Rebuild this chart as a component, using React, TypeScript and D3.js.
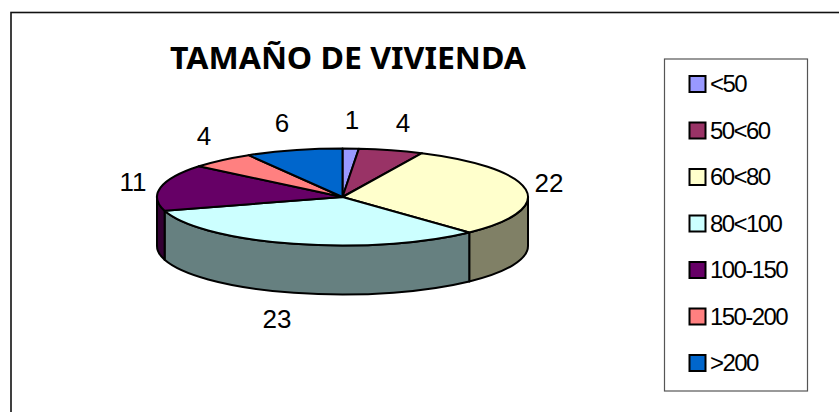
import React from 'react';
import * as d3 from 'd3';

const categories = ['<50', '50<60', '60<80', '80<100', '100-150', '150-200', '>200'];
const values = [1, 4, 22, 23, 11, 4, 6];
const colors = ['#9999FF', '#993366', '#FFFFCC', '#CCFFFF', '#660066', '#FF8080', '#0066CC'];
const title = 'TAMAÑO DE VIVIENDA';

const cx = 342.5;
const cy = 197;
const rx = 185.5;
const ry = 48.5;
const depth = 49;

type Slice = d3.PieArcDatum<number>;

const pie = d3.pie<number>().sort(null).startAngle(0).endAngle(2 * Math.PI);
const slices: Slice[] = pie(values);

const px = (a: number) => cx + rx * Math.sin(a);
const py = (a: number) => cy - ry * Math.cos(a);

// top face of a slice, flattened pie
const topPath = (d: Slice) => {
  const p = d3.path();
  p.moveTo(cx, cy);
  p.lineTo(px(d.startAngle), py(d.startAngle));
  return `${p.toString()}A${rx},${ry} 0 ${d.endAngle - d.startAngle > Math.PI ? 1 : 0} 1 ${px(d.endAngle)},${py(d.endAngle)}Z`;
};

// outer wall, only the part facing the viewer
const wallPath = (d: Slice) => {
  const a0 = Math.max(d.startAngle, Math.PI / 2);
  const a1 = Math.min(d.endAngle, (3 * Math.PI) / 2);
  if (a1 <= a0) return null;
  return (
    `M${px(a0)},${py(a0)}A${rx},${ry} 0 0 1 ${px(a1)},${py(a1)}` +
    `L${px(a1)},${py(a1) + depth}A${rx},${ry} 0 0 0 ${px(a0)},${py(a0) + depth}Z`
  );
};

const darken = (c: string) => {
  const r = d3.rgb(c);
  return d3.rgb(r.r / 2, r.g / 2, r.b / 2).formatHex();
};

const labelPos = [
  [352, 129],
  [403, 132],
  [549, 192],
  [277, 328],
  [133, 191],
  [204, 145],
  [282, 132],
];

const legendY = d3.scalePoint<string>().domain(categories).range([84, 363]);

const App = () => {
  return (
    <svg width={839} height={412} style={{ position: 'absolute', left: 0, top: 0, background: '#fff' }}>
      {/* frame runs past the right and bottom edges of the picture */}
      <rect x={11} y={12.5} width={860} height={430} fill="#fff" stroke="#111" strokeWidth={1.6} />
      <text
        x={348}
        y={69}
        textAnchor="middle"
        fontFamily="'Noto Sans', sans-serif"
        fontWeight="bold"
        fontSize={30}
        textLength={356}
        lengthAdjust="spacingAndGlyphs"
      >
        {title}
      </text>

      {slices.map((d, i) => {
        const w = wallPath(d);
        return w ? <path key={i} d={w} fill={darken(colors[i])} stroke="#000" strokeWidth={2} strokeLinejoin="round" /> : null;
      })}
      {slices.map((d, i) => (
        <path key={i} d={topPath(d)} fill={colors[i]} stroke="#000" strokeWidth={2} strokeLinejoin="round" />
      ))}

      {values.map((v, i) => (
        <text
          key={i}
          x={labelPos[i][0]}
          y={labelPos[i][1]}
          textAnchor="middle"
          fontFamily="'Liberation Sans', Arial, sans-serif"
          fontSize={26}
          fill="#000"
        >
          {v}
        </text>
      ))}

      <rect x={664.5} y={59} width={143} height={332} fill="#fff" stroke="#555" strokeWidth={1.2} />
      {categories.map((c, i) => {
        const y = legendY(c) as number;
        return (
          <g key={c}>
            <rect x={689.5} y={y - 8} width={16} height={16} fill={colors[i]} stroke="#000" strokeWidth={2} />
            <text
              x={710}
              y={y + 8}
              fontFamily="'Liberation Sans', Arial, sans-serif"
              fontSize={24}
              letterSpacing={-1.6}
              fill="#000"
            >
              {c}
            </text>
          </g>
        );
      })}
    </svg>
  );
};

export default App;
